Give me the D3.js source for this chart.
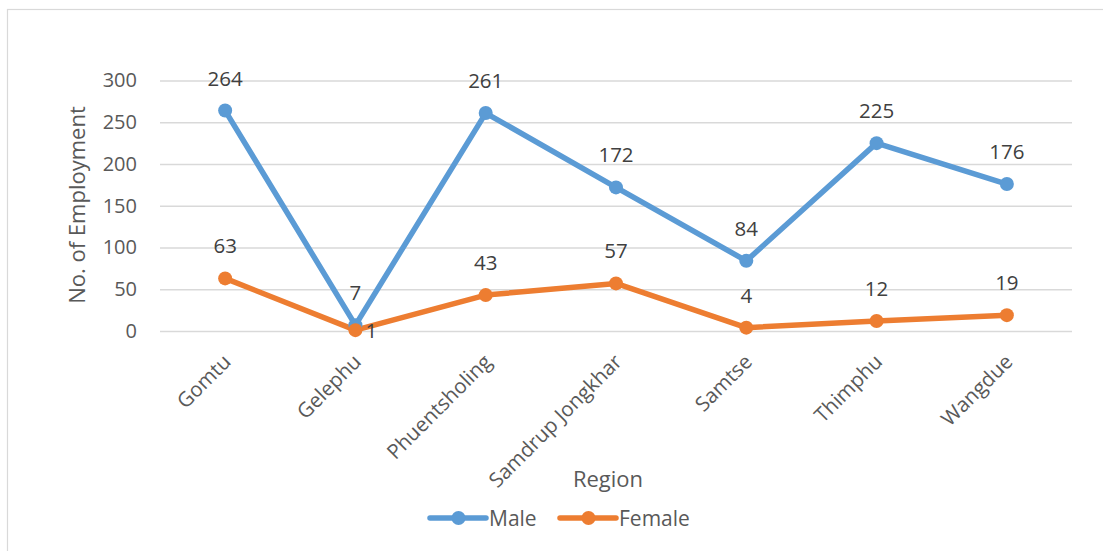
<!DOCTYPE html>
<html>
<head>
<meta charset="utf-8">
<script src="https://cdn.jsdelivr.net/npm/d3@7"></script>
<style>
  html, body { margin: 0; padding: 0; background: #ffffff; }
  svg { display: block; font-family: "Open Sans", Lato, sans-serif; }
</style>
</head>
<body>
<svg id="chart" width="1103" height="551"></svg>
<script>
// Employment by region, split by gender
const regions = ["Gomtu", "Gelephu", "Phuentsholing", "Samdrup Jongkhar", "Samtse", "Thimphu", "Wangdue"];
const maleValues = [264, 7, 261, 172, 84, 225, 176];
const femaleValues = [63, 1, 43, 57, 4, 12, 19];
const yTicks = [0, 50, 100, 150, 200, 250, 300];

const colors = { Male: "#5b9bd5", Female: "#ed7d31" };
const svg = d3.select("#chart");

// chart area frame
svg.append("rect")
  .attr("x", 7.5).attr("y", 9.5)
  .attr("width", 1200).attr("height", 700)
  .attr("fill", "#ffffff")
  .attr("stroke", "#d9d9d9").attr("stroke-width", 1.2);

const plot = { left: 160, right: 1072, top: 80.5, bottom: 331 };

const x = d3.scalePoint().domain(regions).range([plot.left, plot.right]).padding(0.5);
const y = d3.scaleLinear().domain([0, 300]).range([plot.bottom, plot.top]);

// horizontal gridlines + value labels
const yAxis = d3.axisLeft(y)
  .tickValues(yTicks)
  .tickSizeInner(-(plot.right - plot.left))
  .tickSizeOuter(0)
  .tickPadding(23);

const gy = svg.append("g")
  .attr("transform", `translate(${plot.left},0)`)
  .call(yAxis);
gy.select(".domain").remove();
gy.selectAll(".tick line").attr("stroke", "#d9d9d9").attr("stroke-width", 1.3);
gy.selectAll(".tick text")
  .attr("fill", "#595959")
  .style("font-size", "20px")
  .style("font-family", "'Open Sans', Lato, sans-serif");

// rotated category labels
const xLabels = svg.append("g");
regions.forEach(r => {
  xLabels.append("text")
    .attr("transform", `translate(${x(r) + 2},${plot.bottom + 27}) rotate(-45)`)
    .attr("text-anchor", "end")
    .attr("dy", "0.35em")
    .attr("fill", "#595959")
    .style("font-size", "20.5px")
    .text(r);
});

// axis titles
svg.append("text")
  .attr("transform", `translate(85,205) rotate(-90)`)
  .attr("text-anchor", "middle")
  .attr("fill", "#595959")
  .style("font-size", "22px")
  .text("No. of Employment");

svg.append("text")
  .attr("x", 608).attr("y", 487)
  .attr("text-anchor", "middle")
  .attr("fill", "#595959")
  .style("font-size", "22px")
  .text("Region");

// series lines, markers and value labels
const series = [
  { name: "Male", values: maleValues },
  { name: "Female", values: femaleValues }
];

const line = d3.line()
  .x((d, i) => x(regions[i]))
  .y(d => y(d));

series.forEach(s => {
  svg.append("path")
    .datum(s.values)
    .attr("d", line)
    .attr("fill", "none")
    .attr("stroke", colors[s.name])
    .attr("stroke-width", 5.5)
    .attr("stroke-linejoin", "round")
    .attr("stroke-linecap", "round");
});

series.forEach(s => {
  svg.append("g").selectAll("circle")
    .data(s.values)
    .join("circle")
    .attr("cx", (d, i) => x(regions[i]))
    .attr("cy", d => y(d))
    .attr("r", 7)
    .attr("fill", colors[s.name]);
});

// value labels sit above each marker; the tiny Gelephu female value sits to the right
series.forEach(s => {
  svg.append("g").selectAll("text")
    .data(s.values)
    .join("text")
    .each(function (d, i) {
      const t = d3.select(this);
      const px = x(regions[i]), py = y(d);
      if (s.name === "Female" && regions[i] === "Gelephu") {
        t.attr("x", px + 10).attr("y", py).attr("dy", "0.36em").attr("text-anchor", "start");
      } else {
        t.attr("x", px).attr("y", py - 25).attr("text-anchor", "middle");
      }
    })
    .attr("fill", "#404040")
    .style("font-size", "20.5px")
    .text(d => d);
});

// legend
const legendItems = [
  { name: "Male", x0: 430 },
  { name: "Female", x0: 560 }
];
const lg = svg.append("g");
legendItems.forEach(item => {
  lg.append("line")
    .attr("x1", item.x0).attr("x2", item.x0 + 56)
    .attr("y1", 518).attr("y2", 518)
    .attr("stroke", colors[item.name])
    .attr("stroke-width", 5.5)
    .attr("stroke-linecap", "round");
  lg.append("circle")
    .attr("cx", item.x0 + 28.5).attr("cy", 518).attr("r", 7)
    .attr("fill", colors[item.name]);
  lg.append("text")
    .attr("x", item.x0 + 59).attr("y", 518)
    .attr("dy", "0.36em")
    .attr("fill", "#595959")
    .style("font-size", "21px")
    .text(item.name);
});
</script>
</body>
</html>
